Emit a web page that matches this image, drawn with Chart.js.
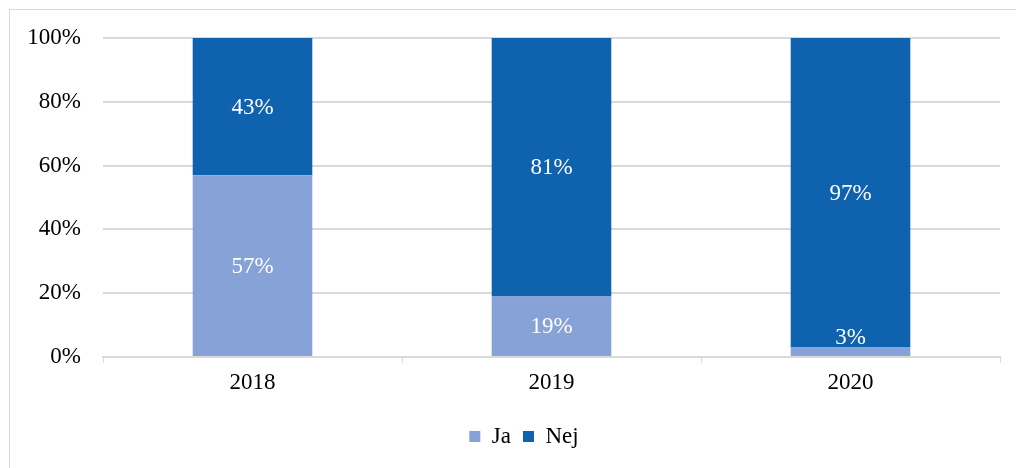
<!DOCTYPE html>
<html>
<head>
<meta charset="utf-8">
<script src="https://cdn.jsdelivr.net/npm/chart.js@4/dist/chart.umd.min.js"></script>
<style>
  html, body { margin: 0; padding: 0; background: #fff; overflow: hidden; }
  #frame { position: absolute; left: 9px; top: 9px; width: 1020px; height: 470px; border: 1px solid #d9d9d9; }
  #wrap { position: absolute; left: 0; top: 0; width: 1016px; height: 468px; }
</style>
</head>
<body>
<div id="frame"></div>
<div id="wrap"><canvas id="chart" width="1016" height="468"></canvas></div>
<script>
const years = ['2018', '2019', '2020'];
const ja = [57, 19, 3];
const nej = [43, 81, 97];
const yTicks = [0, 20, 40, 60, 80, 100];

const FONT = "'Liberation Serif', 'Times New Roman', serif";

// white percent labels inside each segment
const segLabels = {
    id: 'segLabels',
    afterDatasetsDraw(chart) {
        const ctx = chart.ctx;
        ctx.save();
        ctx.fillStyle = '#ffffff';
        ctx.font = '23px ' + FONT;
        ctx.textAlign = 'center';
        ctx.textBaseline = 'middle';
        chart.data.datasets.forEach((ds, di) => {
            chart.getDatasetMeta(di).data.forEach((bar, i) => {
                let y = (bar.y + bar.base) / 2;
                // tiny segments: keep the text above the axis line
                if (bar.base - y < 19) y = bar.base - 19;
                ctx.fillText(ds.data[i] + '%', bar.x, y + 1);
            });
        });
        ctx.restore();
    }
};

// legend sits a bit right of the canvas centre in the original
const legendShift = {
    id: 'legendShift',
    afterLayout(chart) {
        chart.legend.left += 19;
        chart.legend.right += 19;
    }
};

new Chart(document.getElementById('chart'), {
    type: 'bar',
    data: {
        labels: years,
        datasets: [
            { label: 'Ja', data: ja, backgroundColor: '#87a2d6', categoryPercentage: 0.8, barPercentage: 0.5 },
            { label: 'Nej', data: nej, backgroundColor: '#0f62ae', categoryPercentage: 0.8, barPercentage: 0.5 }
        ]
    },
    options: {
        responsive: false,
        animation: false,
        layout: { padding: { left: 10, right: 16, top: 38, bottom: 10 } },
        plugins: {
            tooltip: { enabled: false },
            legend: {
                position: 'bottom',
                labels: {
                    color: '#000',
                    font: { family: FONT, size: 23 },
                    boxWidth: 11,
                    boxHeight: 11,
                    padding: 12
                }
            }
        },
        scales: {
            x: {
                stacked: true,
                offset: true,
                afterFit: s => { s.height = 56; },
                grid: { display: true, drawOnChartArea: false, drawTicks: true, tickLength: 6, color: '#d9d9d9', offset: true },
                border: { display: true, color: '#d9d9d9', width: 2 },
                ticks: { color: '#000', font: { family: FONT, size: 23 }, padding: 6 }
            },
            y: {
                stacked: true,
                min: 0,
                max: 100,
                afterFit: s => { s.width = 93; },
                afterBuildTicks: s => { s.ticks = yTicks.map(v => ({ value: v })); },
                grid: { color: '#d9d9d9', lineWidth: 2, drawTicks: false },
                border: { display: false },
                ticks: { color: '#000', font: { family: FONT, size: 23 }, padding: 22, callback: v => v + '%' }
            }
        }
    },
    plugins: [segLabels, legendShift]
});
</script>
</body>
</html>
